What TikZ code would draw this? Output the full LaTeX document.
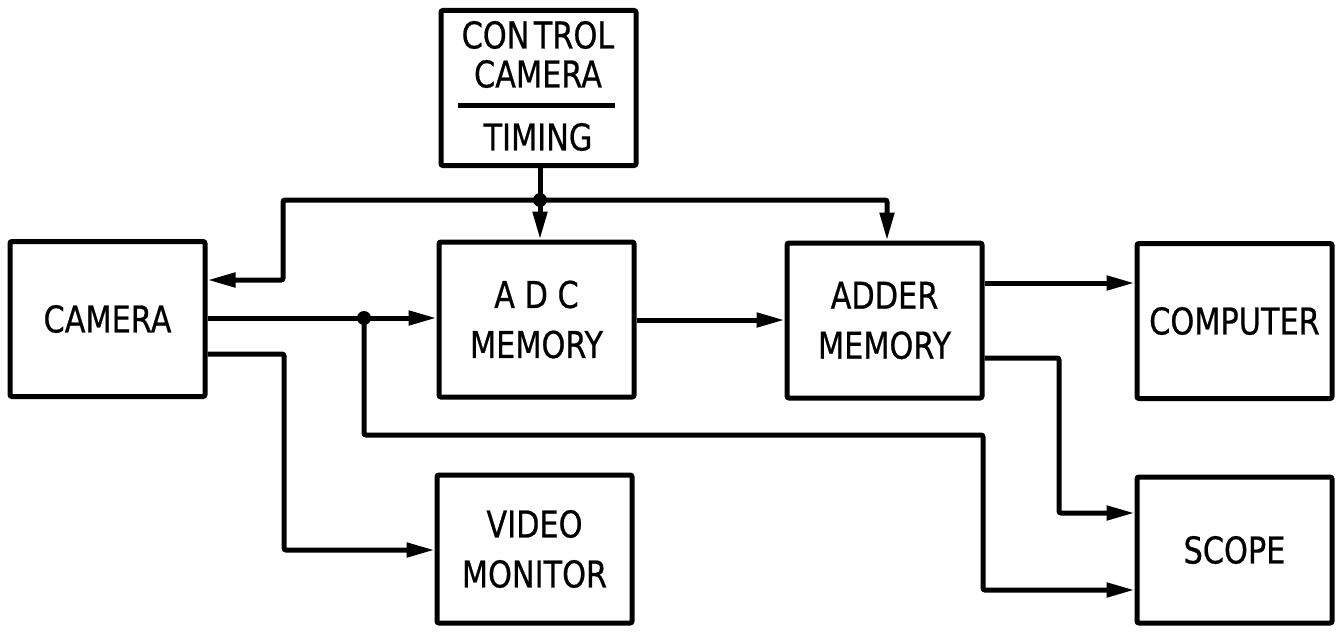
\documentclass[tikz,border=0pt]{standalone}
\usepackage{fontspec}
\setmainfont{DejaVu Sans}[FakeStretch=0.82,FakeBold=0.6]
\usetikzlibrary{arrows.meta,calc}
\begin{document}
\begin{tikzpicture}[x=1pt,y=-1pt,
  line width=5pt,
  box/.style={draw, line width=5pt, rounded corners=2pt, minimum width=195pt, minimum height=155pt,
              inner sep=0pt, align=center, font=\fontsize{37}{50}\selectfont},
  lbl/.style={inner sep=0pt, font=\fontsize{37}{50}\selectfont},
  wire/.style={draw, line width=5pt, rounded corners=2pt},
  arr/.style={wire, -{Triangle[length=28pt,width=14pt]}},
  dot/.style={circle, fill, inner sep=0pt, minimum size=14pt}]
\useasboundingbox (0,0) rectangle (1341,634);
\fill[white] (0,0) rectangle (1341,634);

% boxes
\node[box] (ctrl) at (538.5,88) {};
\node[box] (cam)  at (107.5,319) {CAMERA};
\node[box] (adc)  at (536.5,319.5) {A~D~C\\MEMORY};
\node[box] (add)  at (884.5,320.5) {ADDER\\MEMORY};
\node[box] (comp) at (1234.5,321) {COMPUTER};
\node[box, minimum height=148pt] (vid)  at (534.5,549) {VIDEO\\MONITOR};
\node[box, minimum height=146pt] (scope) at (1234.5,550) {SCOPE};

% control box text
\node[lbl] (t1) at (538,35) {CON\kern0.12em TROL};
\node[lbl] (t2) at (538,74) {CAMERA};
\node[lbl] (t3) at (538,137) {TIMING};
\coordinate (rl) at (458,105);
\coordinate (rr) at (615,105);
\draw[line width=5pt] (rl) -- (rr);

% junctions
\coordinate (j1) at (540,200);
\coordinate (j2) at (364,318);
\node[dot] (d1) at (j1) {};
\node[dot] (d2) at (j2) {};

% timing distribution
\draw[wire] (ctrl.south -| j1) -- (j1);
\draw[arr] (j1) -- (j1 |- adc.north);
\draw[arr] (j1) -| (283,280) -- (cam.east |- 0,280);
\draw[arr] (j1) -| (add.north -| 887,0);

% camera signal
\draw[arr] (cam.east |- j2) -- (adc.west |- j2);
\draw[arr] (j2) |- (983,435) |- (scope.west |- 0,590);
\draw[arr] (cam.east |- 0,354) -| (284,550) -- (vid.west |- 0,550);

% data path
\draw[arr] (adc.east |- 0,320) -- (add.west |- 0,320);
\draw[arr] (add.east |- 0,283) -- (comp.west |- 0,283);
\draw[arr] (add.east |- 0,358) -| (1059,513) -- (scope.west |- 0,513);
\end{tikzpicture}
\end{document}
